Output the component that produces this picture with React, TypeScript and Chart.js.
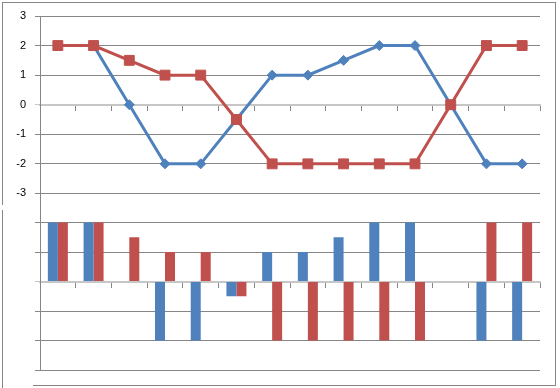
import React, { useEffect, useRef } from 'react';
import { Chart, registerables } from 'chart.js';

Chart.register(...registerables);

const categories = ['1', '2', '3', '4', '5', '6', '7', '8', '9', '10', '11', '12', '13', '14'];
const seriesBlue = [2, 2, 0, -2, -2, -0.5, 1, 1, 1.5, 2, 2, 0, -2, -2];
const seriesRed = [2, 2, 1.5, 1, 1, -0.5, -2, -2, -2, -2, -2, 0, 2, 2];
const yMin = -3;
const yMax = 3;
const yStep = 1;

const BLUE = '#4F81BD';
const RED = '#C0504D';
const GRID = '#868686';
const ZERO = '#c6c6c6';

const xScale = () => ({
  type: 'category' as const,
  offset: true,
  position: { y: 0 },
  z: 1,
  grid: {
    display: true,
    drawOnChartArea: false,
    drawTicks: true,
    tickLength: 5,
    offset: true,
    color: GRID,
    lineWidth: 1,
  },
  border: { display: true, color: ZERO, width: 2 },
  ticks: { display: false },
});

const gridColor = (ctx: any) => (ctx.tick && ctx.tick.value === 0 ? ZERO : GRID);

export default function App() {
  const topRef = useRef<HTMLCanvasElement>(null);
  const botRef = useRef<HTMLCanvasElement>(null);

  useEffect(() => {
    const top = new Chart(topRef.current!, {
      type: 'line',
      data: {
        labels: categories,
        datasets: [
          {
            label: 'Series 1',
            data: seriesBlue,
            borderColor: BLUE,
            backgroundColor: BLUE,
            borderWidth: 3,
            pointStyle: 'rectRot',
            pointRadius: 5,
            pointBorderWidth: 1,
            tension: 0,
            order: 1,
          },
          {
            label: 'Series 2',
            data: seriesRed,
            borderColor: RED,
            backgroundColor: RED,
            borderWidth: 3,
            pointStyle: 'rect',
            pointRadius: 7,
            pointBorderWidth: 1,
            tension: 0,
            order: 0,
          },
        ],
      },
      options: {
        animation: false,
        responsive: false,
        maintainAspectRatio: false,
        layout: { padding: { left: 0, right: 20, top: 16, bottom: 7 } },
        plugins: { legend: { display: false }, tooltip: { enabled: false } },
        scales: {
          x: xScale() as any,
          y: {
            min: yMin,
            max: yMax,
            ticks: {
              stepSize: yStep,
              padding: 9,
              color: '#000',
              font: { family: 'Liberation Sans', size: 11 },
            },
            grid: { color: gridColor, lineWidth: 1, tickLength: 5 },
            border: { color: GRID, width: 1 },
            afterFit: (s: any) => {
              s.width = 40;
            },
          },
        },
      },
    });

    const bot = new Chart(botRef.current!, {
      type: 'bar',
      data: {
        labels: categories,
        datasets: [
          {
            label: 'Series 1',
            data: seriesBlue,
            backgroundColor: BLUE,
            borderWidth: 0,
            categoryPercentage: 0.56,
            barPercentage: 1,
          },
          {
            label: 'Series 2',
            data: seriesRed,
            backgroundColor: RED,
            borderWidth: 0,
            categoryPercentage: 0.56,
            barPercentage: 1,
          },
        ],
      },
      options: {
        animation: false,
        responsive: false,
        maintainAspectRatio: false,
        layout: { padding: { left: 0, right: 20, top: 13, bottom: 18 } },
        plugins: { legend: { display: false }, tooltip: { enabled: false } },
        scales: {
          x: xScale() as any,
          y: {
            min: yMin,
            max: yMax,
            ticks: { stepSize: yStep, display: false },
            grid: { color: gridColor, lineWidth: 1, tickLength: 5 },
            border: { color: GRID, width: 1 },
            afterFit: (s: any) => {
              s.width = 40;
            },
          },
        },
      },
    });

    return () => {
      top.destroy();
      bot.destroy();
    };
  }, []);

  const line = (left: number, top: number, width: number, height: number) => (
    <div style={{ position: 'absolute', left, top, width, height, background: GRID }} />
  );

  return (
    <div style={{ position: 'absolute', left: 0, top: 0, width: 560, height: 388, background: '#fff' }}>
      <canvas ref={botRef} width={560} height={208} style={{ position: 'absolute', left: 0, top: 180 }} />
      <canvas ref={topRef} width={560} height={209} style={{ position: 'absolute', left: 0, top: 0 }} />
      {line(2, 2, 554, 1)}
      {line(555, 2, 1, 384)}
      {line(2, 2, 1, 203)}
      {line(2, 210, 1, 178)}
      {line(33, 385, 523, 1)}
    </div>
  );
}
